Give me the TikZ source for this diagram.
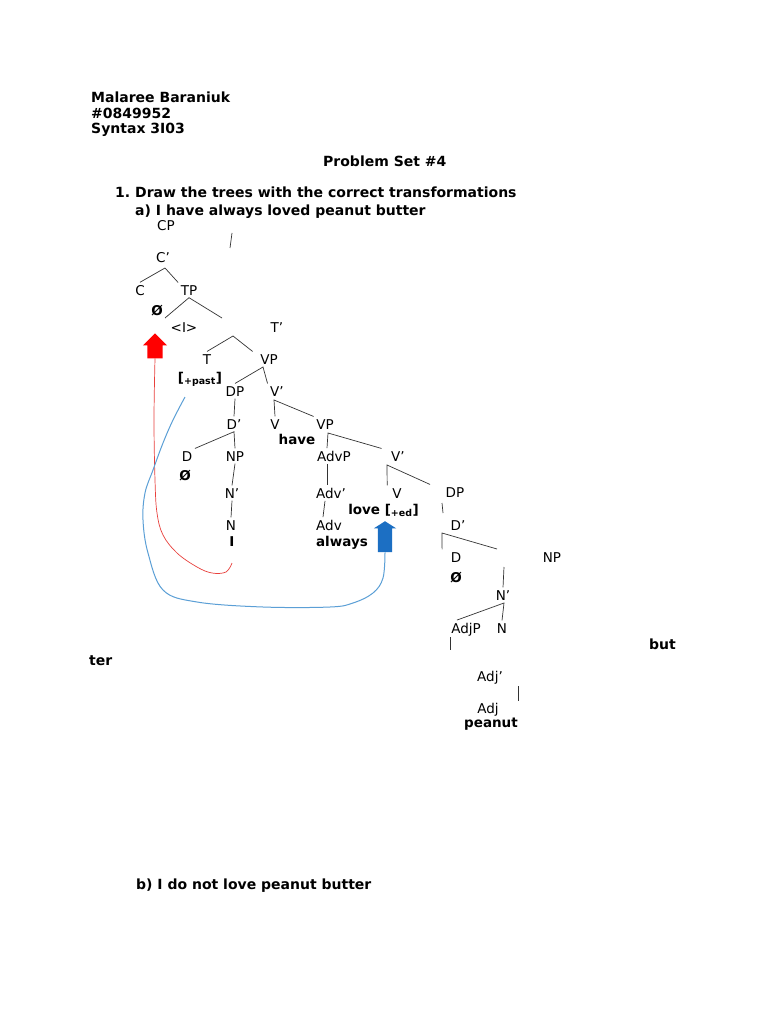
\documentclass[tikz,border=0pt]{standalone}
\usepackage{fontspec}
\setmainfont{DejaVu Sans}
\usepackage{xcolor}
\usetikzlibrary{shapes.arrows}
\definecolor{linered}{HTML}{E8403C}
\definecolor{lineblue}{HTML}{5B9FD6}
\definecolor{arrowblue}{HTML}{1C6FC3}

\begin{document}
\begin{tikzpicture}[x=1pt, y=-1pt,
    hdr/.style={font=\fontsize{14}{16}\selectfont\bfseries, anchor=base west, inner sep=0pt},
    lbl/.style={font=\fontsize{13.5}{16}\selectfont, anchor=base, inner sep=2.5pt},
    wrd/.style={font=\fontsize{13.5}{16}\selectfont\bfseries, anchor=base, inner sep=2.5pt},
    branch/.style={draw=black!80, line width=0.7pt},
    redline/.style={draw=linered, line width=0.7pt},
    blueline/.style={draw=lineblue, line width=1pt},
    redarrow/.style={single arrow, rotate=90, fill=red, draw=none, inner xsep=0pt, inner ysep=7.5pt,
        minimum height=25pt, single arrow head extend=4.5pt, anchor=tip},
    bluearrow/.style={single arrow, rotate=90, fill=arrowblue, draw=none, inner xsep=0pt, inner ysep=7pt,
        minimum height=31pt, single arrow head extend=4pt, single arrow tip angle=115, anchor=tip}]

    \useasboundingbox[fill=white] (0,0) rectangle (768,1024);

    \node[hdr] (name) at (91,103) {Malaree Baraniuk};
    \node[hdr] (id) at (91,118.5) {\#0849952};
    \node[hdr] (course) at (91,134) {Syntax 3I03};
    \node[hdr] (title) at (323,167) {Problem Set \#4};
    \node[hdr] (qnum) at (115,198) {1.};
    \node[hdr] (qone) at (135,198) {Draw the trees with the correct transformations};
    \node[hdr] (qa) at (135,215) {a) I have always loved peanut butter};
    \node[hdr] (qb) at (136,889) {b) I do not love peanut butter};
    \node[hdr] (but) at (649,649) {but};
    \node[hdr] (ter) at (89,665) {ter};

    \node[lbl] (cp) at (166,231) {CP};
    \node[lbl] (cbar) at (163,262) {C’};
    \node[lbl] (c) at (140,295) {C};
    \node[lbl] (tp) at (189,295) {TP};
    \node[wrd] (nullc) at (157,315) {Ø};
    \node[lbl] (trace) at (184,332) {<I>};
    \node[lbl] (tbar) at (277,332) {T’};
    \node[lbl] (t) at (207,364) {T};
    \node[lbl] (vp1) at (269,364) {VP};
    \node[wrd] (past) at (200,382) {[\textsubscript{+past}]};
    \node[lbl] (dp1) at (235,396) {DP};
    \node[lbl] (vbar1) at (277,396) {V’};
    \node[lbl] (dbar1) at (234,429) {D’};
    \node[lbl] (v1) at (275,429) {V};
    \node[lbl] (vp2) at (325,429) {VP};
    \node[wrd] (have) at (297,444) {have};
    \node[lbl] (d1) at (187,461) {D};
    \node[lbl] (np1) at (235,461) {NP};
    \node[lbl] (advp) at (334,461) {AdvP};
    \node[lbl] (vbar2) at (398,461) {V’};
    \node[wrd] (nulld1) at (185,480) {Ø};
    \node[lbl] (nbar1) at (232,498) {N’};
    \node[lbl] (advbar) at (331,498) {Adv’};
    \node[lbl] (v2) at (397,498) {V};
    \node[lbl] (dp2) at (455,497) {DP};
    \node[wrd] (love) at (383.5,514) {love [\textsubscript{+ed}]};
    \node[lbl] (n1) at (231,530) {N};
    \node[lbl] (adv) at (329,530) {Adv};
    \node[wrd] (pron) at (232,546) {I};
    \node[wrd] (always) at (342,546) {always};
    \node[lbl] (dbar2) at (458,530) {D’};
    \node[lbl] (d2) at (456,562) {D};
    \node[lbl] (np2) at (552,562) {NP};
    \node[wrd] (nulld2) at (456,582) {Ø};
    \node[lbl] (nbar2) at (503,600) {N’};
    \node[lbl] (adjp) at (466,633) {AdjP};
    \node[lbl] (n2) at (502,633) {N};
    \node[lbl] (adjbar) at (490,681) {Adj’};
    \node[lbl] (adj) at (488,713) {Adj};
    \node[wrd] (peanut) at (491,727) {peanut};

    \coordinate (cpa) at (232,233);
    \coordinate (cpb) at (230,248);
    \coordinate (kc) at (165,268);
    \coordinate (tpl) at (165,318);
    \coordinate (tpr) at (222,318);
    \coordinate (ktb) at (233,336);
    \coordinate (kvp1) at (263,367);
    \coordinate (kvb1) at (274,400);
    \coordinate (kvp2) at (328,433);
    \coordinate (kvb2) at (387,465);
    \coordinate (dpa) at (442,503);
    \coordinate (dpb) at (443,513);
    \coordinate (kdb2) at (442,533);
    \coordinate (kdb2r) at (497,549);
    \coordinate (nba) at (504,567);
    \coordinate (knb2) at (504,603);
    \coordinate (adjpa) at (450,637);
    \coordinate (adjpb) at (450,650);
    \coordinate (adjba) at (518,686);
    \coordinate (adjbb) at (518,701);

    \draw[branch] (cpa) -- (cpb);
    \draw[branch] (c.north) -- (kc) -- (tp.north west);
    \draw[branch] (tpl) -- (tp.south) -- (tpr);
    \draw[branch] (t.north) -- (ktb) -- ([xshift=-5pt]vp1.north west);
    \draw[branch] (dp1.north) -- (kvp1) -- (vbar1.north west);
    \draw[branch] (dp1.south) -- (dbar1.north);
    \draw[branch] (v1.north) -- (kvb1) -- (vp2.north west);
    \draw[branch] (d1.north east) -- (dbar1.south) -- (np1.north);
    \draw[branch] ([xshift=-7pt]advp.north) -- (kvp2) -- ([xshift=-7pt]vbar2.north west);
    \draw[branch] (np1.south) -- (nbar1.north);
    \draw[branch] ([xshift=-7pt]advp.south) -- ([xshift=-4pt]advbar.north);
    \draw[branch] ([xshift=-2.5pt]v2.north west) -- (kvb2) -- ([xshift=-13pt]dp2.north west);
    \draw[branch] (nbar1.south) -- (n1.north);
    \draw[branch] ([xshift=-6pt]adv.north) -- ([xshift=-6pt]advbar.south);
    \draw[branch] (dpa) -- (dpb);
    \draw[branch] ([xshift=-6pt]d2.north west) -- (kdb2) -- (kdb2r);
    \draw[branch] (nba) -- (nbar2.north);
    \draw[branch] ([xshift=-9pt]adjp.north) -- (knb2) -- (n2.north);
    \draw[branch] (adjpa) -- (adjpb);
    \draw[branch] (adjba) -- (adjbb);

    \node[redarrow] (redup) at (155,333) {};
    \node[bluearrow] (blueup) at (385,521) {};
    \coordinate (redend) at (232,563);
    \coordinate (blueend) at (185,397);

    \draw[redline] plot[smooth, tension=0.6] coordinates {(redup.tail) (154,420) (155,480) (157,513)
        (163,535) (177,553) (197,567) (212,573) (226,572) (redend)};
    \draw[blueline] plot[smooth, tension=0.6] coordinates {(blueup.tail) (383,578) (373,593) (353,603)
        (330,607) (263,607) (197,602) (163,590) (148,553) (143,520) (145,493) (153,470) (163,443)
        (173,420) (blueend)};
\end{tikzpicture}
\end{document}
